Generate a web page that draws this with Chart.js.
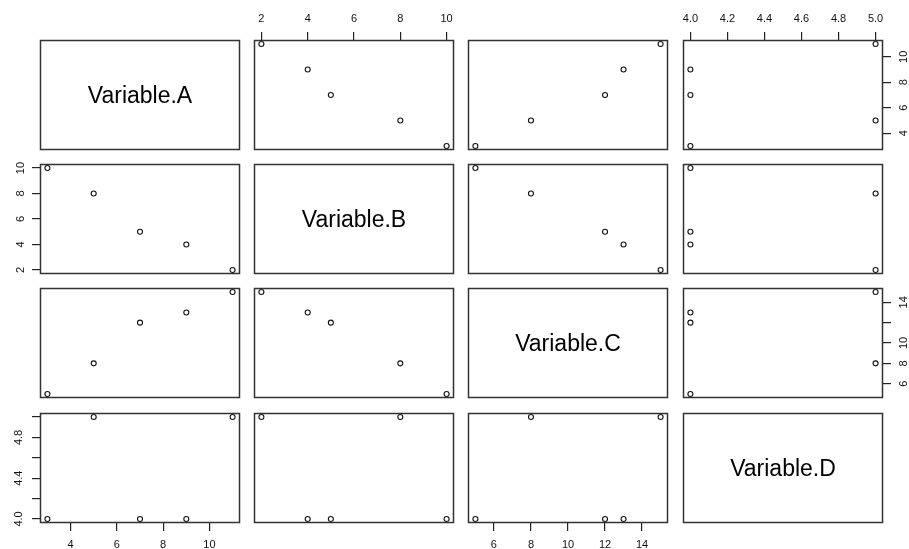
<!DOCTYPE html>
<html><head><meta charset="utf-8">
<script src="https://cdn.jsdelivr.net/npm/chart.js@4.4.0/dist/chart.umd.min.js"></script>
<style>
html,body{margin:0;padding:0;background:#fff;overflow:hidden;width:909px;height:549px;}
canvas{position:absolute;}
</style></head><body>
<script>
// ---- data ----
const varNames = ['Variable.A','Variable.B','Variable.C','Variable.D'];
const varA = [3,5,7,9,11];
const varB = [10,8,5,4,2];
const varC = [5,8,12,13,15];
const varD = [4,5,4,4,5];
const ticksA = [4,6,8,10];
const ticksB = [2,4,6,8,10];
const ticksC = [6,8,10,12,14];
const ticksD = [4.0,4.2,4.4,4.6,4.8,5.0];
const labelsABottom = ['4','6','8','10'];
const labelsARight  = ['4','6','8','10'];
const labelsBTop    = ['2','4','6','8','10'];
const labelsBLeft   = ['2','4','6','8','10'];
const labelsCRight  = ['6','8','10','','14'];
const labelsCBottom = ['6','8','10','12','14'];
const labelsDTop    = ['4.0','4.2','4.4','4.6','4.8','5.0'];
const labelsDLeft   = ['4.0','','4.4','','4.8',''];

const vars = [varA,varB,varC,varD];
const ticksList = [ticksA,ticksB,ticksC,ticksD];
// axis labels on outer sides: key = column (top/bottom) or row (left/right)
const topAxes    = {1: labelsBTop, 3: labelsDTop};
const bottomAxes = {0: labelsABottom, 2: labelsCBottom};
const leftAxes   = {1: labelsBLeft, 3: labelsDLeft};
const rightAxes  = {0: labelsARight, 2: labelsCRight};

// ---- layout ----
const colLeft = [40, 254, 468, 683];
const rowTop  = [40, 164, 288, 413];
const PW = 200, PH = 110, M = 34;
const FONT = 'Liberation Sans, Arial, Helvetica, sans-serif';

function padRange(arr){
  const mn = Math.min(...arr), mx = Math.max(...arr), d = (mx-mn)*0.04;
  return [mn-d, mx+d];
}

const boxPlugin = {
  id:'box',
  afterDatasetsDraw(chart){
    const {ctx, chartArea:a} = chart;
    ctx.save();
    ctx.strokeStyle = '#333';
    ctx.lineWidth = 1.5;
    ctx.strokeRect(Math.round(a.left)+0.5, Math.round(a.top)+0.5, Math.round(a.width)-1, Math.round(a.height)-1);
    const t = chart.options.plugins.diagLabel && chart.options.plugins.diagLabel.text;
    if (t){
      ctx.fillStyle = '#000';
      ctx.font = '23px ' + FONT;
      ctx.textAlign = 'center';
      ctx.textBaseline = 'middle';
      ctx.fillText(t, (a.left+a.right)/2, (a.top+a.bottom)/2 + 2);
    }
    ctx.restore();
  }
};

function scaleCfg(axis, v, ticks, pos, labels, pad){
  const [mn,mx] = padRange(v);
  return {
    type:'linear', position: pos, min: mn, max: mx, display: !!labels,
    afterBuildTicks: s => { s.ticks = ticks.map(t => ({value:t})); },
    afterFit: s => {
      const sz = labels ? M : 0;
      if (axis==='x') s.height = sz; else s.width = sz;
    },
    grid: {display:true, drawOnChartArea:false, drawTicks:true, tickLength:8, color:'#222', lineWidth:1.2},
    border: {display:false},
    ticks: {
      autoSkip:false, padding: pad, color:'#111',
      font:{family:FONT, size:11},
      minRotation: axis==='y' ? 90 : 0, maxRotation: axis==='y' ? 90 : 0,
      crossAlign: axis==='y' ? 'center' : 'near',
      callback: (val, idx) => labels ? labels[idx] : ''
    }
  };
}

for (let i=0;i<4;i++){
  for (let j=0;j<4;j++){
    const cv = document.createElement('canvas');
    cv.width = PW + 2*M; cv.height = PH + 2*M;
    cv.style.left = (colLeft[j]-M)+'px';
    cv.style.top = (rowTop[i]-M)+'px';
    cv.style.width = cv.width+'px'; cv.style.height = cv.height+'px';
    document.body.appendChild(cv);

    const tLab = (i===0) ? topAxes[j] : undefined;
    const bLab = (i===3) ? bottomAxes[j] : undefined;
    const lLab = (j===0) ? leftAxes[i] : undefined;
    const rLab = (j===3) ? rightAxes[i] : undefined;
    const diag = i===j;
    const xLab = diag ? undefined : (tLab || bLab);
    const yLab = diag ? undefined : (lLab || rLab);
    const xPos = tLab ? 'top' : 'bottom';
    const yPos = rLab ? 'right' : 'left';

    const data = diag ? [] : vars[j].map((xv,k) => ({x:xv, y:vars[i][k]}));

    new Chart(cv, {
      type:'scatter',
      data:{datasets:[{data, pointRadius:2.5, pointHoverRadius:2.5, borderColor:'#111', backgroundColor:'rgba(0,0,0,0)', pointBorderWidth:1.1, borderWidth:1.1}]},
      options:{
        responsive:false, animation:false, devicePixelRatio:1,
        layout:{padding:{
          top: (xLab && xPos==='top') ? 0 : M,
          bottom: (xLab && xPos==='bottom') ? 0 : M,
          left: (yLab && yPos==='left') ? 0 : M,
          right: (yLab && yPos==='right') ? 0 : M
        }},
        plugins:{legend:{display:false}, tooltip:{enabled:false}, diagLabel:{text: diag ? varNames[i] : ''}},
        scales:{
          x: scaleCfg('x', vars[j], ticksList[j], xPos, xLab, xPos==='top' ? 6 : 7),
          y: scaleCfg('y', vars[i], ticksList[i], yPos, yLab, yPos==='left' ? 5 : 7)
        }
      },
      plugins:[boxPlugin]
    });
  }
}
</script>
</body></html>
